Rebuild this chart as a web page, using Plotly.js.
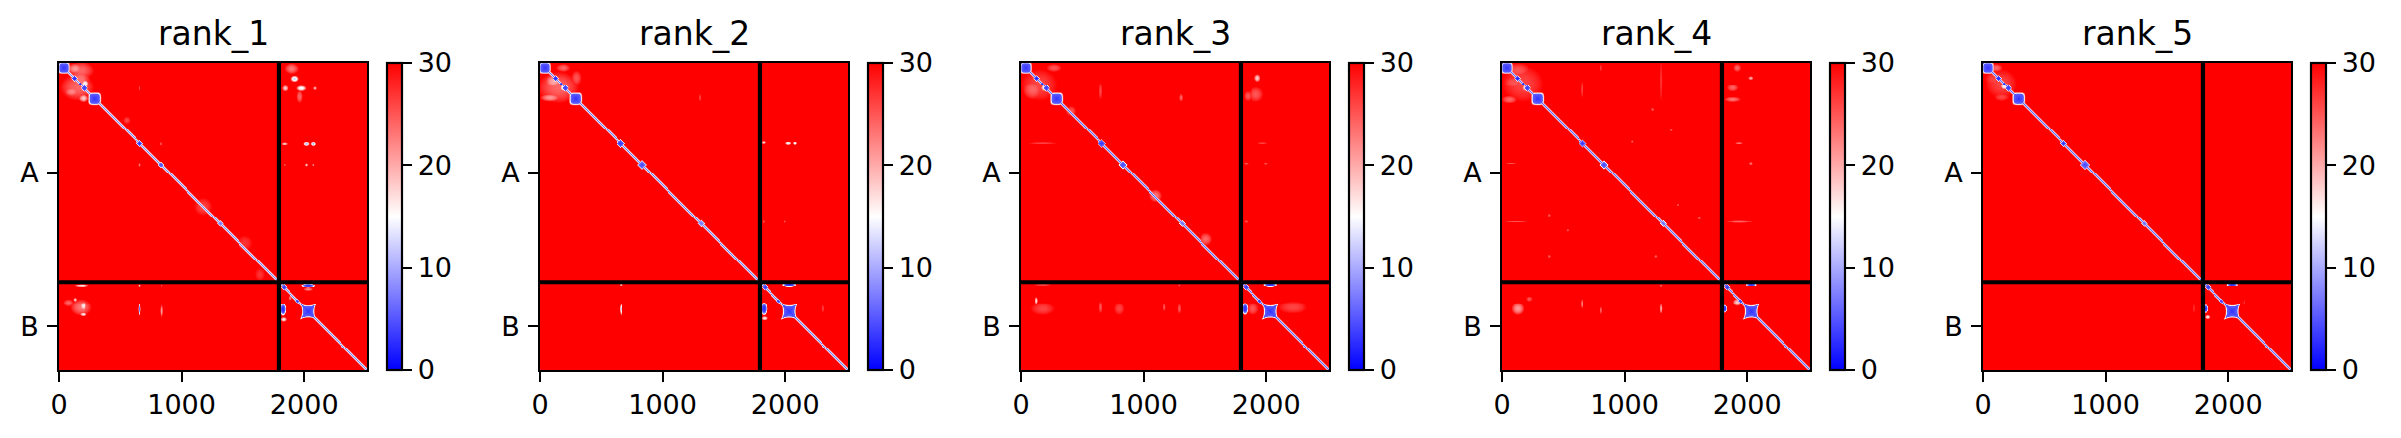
<!DOCTYPE html>
<html><head><meta charset="utf-8">
<style>html,body{margin:0;padding:0;background:#fff}</style>
<script src="https://cdn.plot.ly/plotly-3.0.1.min.js"></script></head>
<body><div id="chart" style="width:2401px;height:438px"></div>
<script>
const rankNames = ['rank_1','rank_2','rank_3','rank_4','rank_5'];
const chainBreak = 1794, totalLength = 2512, cellSize = 8;
const chainTicks = [897, 2153], chainLabels = ['A','B'];
const xTicks = [0,1000,2000];
const cbarTicks = [0,10,20,30];
const background = 30;

// diagonal profile per rank: PAE on the diagonal, then one and two cells off
const diagProfile = [[8,13,24],[7,13,24],[6,12,24],[6,12,24],[6,12,24]];

// diagonal domains: position, kept value, squareness (below 1 = concave square with corner tips)
const nodePos   = [40, 125, 170, 207, 294, 660, 832, 1315, 1834, 1946, 2034];
const nodeValue = [ 3,   2,   2,   3,   3,   3,   4,    7,    3,    3,    3];
const nodeShape = [ 4,   1,   1, 1.3,   4,   1,   1,    1,    1,    1, 0.65];
const nodeRadius = [
  [42,24,14,28,46,26,24,24,24,18,95],
  [42,24,14,28,46,32,36,28,24,18,98],
  [42,24,14,28,46,30,34,26,24,18,98],
  [42,24,14,28,46,28,34,26,24,18,98],
  [42,24,14,28,46,26,38,24,24,18,98]
];

// soft patches: centre x, centre y, radius x, radius y, value at centre
const patches1 = [
 [180,60,110,70,24],[150,200,140,110,24],
 [1925,128,34,28,12],[1979,209,42,24,14],[1843,209,26,26,18],[2088,209,16,16,20],[1898,46,62,44,23],[1965,277,26,52,24],
 [2020,663,26,18,10],[2075,663,22,18,10],[1838,663,26,13,18],[2020,832,12,14,18],[2075,832,10,12,22],[1838,832,10,10,25],
 [130,46,62,44,21],[170,140,90,100,23],[212,170,36,36,13],[103,237,62,42,22],[200,290,44,32,18],
 [660,209,8,20,25],[660,832,10,16,23],[832,663,10,16,25],
 [1177,1175,72,72,26],[1517,1474,62,62,27],[1640,1732,40,52,27],[552,467,30,30,26],
 [185,1822,62,11,16],[660,1822,10,11,18],[837,1822,8,9,25],
 [180,2000,90,70,23],[198,1990,32,40,16],[198,2058,32,16,16],[130,1936,16,16,18],[76,1963,42,32,24],
 [660,2017,9,52,6],[837,2031,11,52,21],
 [1825,2017,26,54,3],[2034,1822,58,15,3],[1830,2099,26,20,16],[2034,1850,40,14,22],[1885,1922,18,22,22]
];
const patches2 = [
 [150,200,170,130,24],
 [109,150,72,62,20],[190,204,32,32,12],[82,285,82,32,21],[300,122,42,62,25],[190,40,62,32,24],
 [1305,285,10,32,26],[1822,652,20,12,18],[2026,658,26,14,13],[2080,658,16,14,13],[1822,1300,10,12,25],[1998,1300,10,10,25],
 [666,1816,12,12,19],[666,2017,9,52,11],[1825,2012,28,56,3],[2034,1816,60,15,3],[2311,2012,10,32,26],[1830,2090,26,18,16]
];
const patches3 = [
 [150,180,150,130,26],
 [1930,122,26,32,18],[1917,258,62,62,25],[1849,272,32,42,25],[190,204,32,32,14],[95,218,82,82,24],[272,40,62,32,25],
 [652,231,16,72,26],[1305,285,16,32,24],[1100,1087,52,52,23],[1509,1441,52,52,24],[408,394,42,42,25],
 [177,658,122,10,26],[1835,821,20,10,25],[1998,821,16,10,25],[1971,658,42,10,26],[1835,1300,16,11,25],
 [122,1944,13,32,17],[177,2012,102,52,26],[652,2000,16,52,25],[802,2012,42,52,26],[1291,2012,16,42,25],[1169,2000,13,32,25],
 [1825,2012,26,52,3],[2034,1816,58,15,3],[2216,2000,122,52,26],[1890,2012,52,52,25],[177,1816,82,8,25],[1291,1820,10,10,25]
];
const patches4 = [
 [170,170,170,150,26],
 [130,60,100,60,25],[190,204,32,32,16],[60,300,62,32,24],[100,160,90,60,25],
 [1297,150,12,172,27],[658,218,10,72,26],[807,40,8,30,26],
 [1922,40,32,32,24],[2031,122,22,16,20],[1881,204,52,32,24],[1881,299,72,22,23],
 [1936,658,32,10,23],[2031,821,16,13,23],[73,821,42,6,25],[1936,1300,112,10,24],[114,1300,92,8,25],
 [1229,380,14,14,25],[1610,1270,14,14,25],[386,1245,14,14,25],[386,1580,14,14,25],[1255,1580,14,14,25],
 [1066,645,12,12,25],[1378,550,12,12,25],[535,1370,12,12,25],[1432,1160,12,12,25],
 [128,2012,52,52,21],[223,1930,32,22,25],[658,1971,10,42,22],[807,2026,10,32,24],[1297,2012,12,42,20],[1297,1822,12,10,24],
 [1922,1958,36,32,18],[1815,2012,18,34,3],[2034,1816,48,11,3]
];
const patches5 = [
 [150,170,130,120,26],
 [174,190,36,32,13],[90,130,72,62,26],[106,40,52,32,24],[150,280,60,32,26],
 [1815,2012,18,36,3],[2034,1816,50,12,3],[1830,2080,22,18,16],[1720,2010,8,40,27],[2130,1960,8,24,27]
];
const allPatches = [patches1,patches2,patches3,patches4,patches5];

// pixel layout of the figure
const W = 2401, H = 438, panelLeft = [59,540,1021,1502,1983], panelW = 308, plotTop = 63, plotBottom = 370;
const cbarOffset = 328, cbarW = 15, tickPx = 27, titlePx = 33, lineW = 2.2, tickLen = 9.7, sepW = 4.2;
const fontFam = '"DejaVu Sans", sans-serif';
const bwr = [[0,'#0000ff'],[0.5,'#ffffff'],[1,'#ff0000']];

function buildZ(r){
  const n = Math.ceil(totalLength/cellSize), z = [];
  for(let i=0;i<n;i++){ z.push(new Array(n).fill(background)); }
  const put=(i,j,v)=>{ if(v<z[i][j]) z[i][j]=v; };
  const prof = diagProfile[r];
  for(let i=0;i<n;i++) for(let o=-prof.length+1;o<prof.length;o++){ const j=i+o; if(j>=0&&j<n) put(i,j,prof[Math.abs(o)]); }
  nodePos.forEach((p,k)=>{
    const R=nodeRadius[r][k], v=nodeValue[k], s=nodeShape[k];
    const lo=Math.max(0,Math.floor((p-R*1.3)/cellSize)), hi=Math.min(n-1,Math.ceil((p+R*1.3)/cellSize));
    for(let i=lo;i<=hi;i++) for(let j=lo;j<=hi;j++){
      let dx=((j+.5)*cellSize-p)/R, dy=((i+.5)*cellSize-p)/R;
      if(s<1){ const u=(dx+dy)*Math.SQRT1_2, w=(dx-dy)*Math.SQRT1_2; dx=u; dy=w; }
      dx=Math.abs(dx); dy=Math.abs(dy);
      const t=Math.pow(Math.pow(dx,s)+Math.pow(dy,s),1/s);
      const core=0.82, edge=s<1?1.15:1.2;
      if(t<edge) put(i,j, t<core ? v+t*3 : v+3+(t-core)/(edge-core)*(30-v-3));
    }
  });
  allPatches[r].forEach(([cx,cy,rx,ry,v])=>{
    for(let i=Math.max(0,Math.floor((cy-ry)/cellSize));i<n&&(i*cellSize)<cy+ry;i++)
      for(let j=Math.max(0,Math.floor((cx-rx)/cellSize));j<n&&(j*cellSize)<cx+rx;j++){
        const dx=((j+.5)*cellSize-cx)/rx, dy=((i+.5)*cellSize-cy)/ry, t=dx*dx+dy*dy;
        if(t<1) put(i,j,v+(30-v)*(v<=5?t*t:t));
      }
  });
  return z;
}

const data=[], layout={
  width:W,height:H,margin:{l:0,r:0,t:0,b:0,autoexpand:false},paper_bgcolor:'#fff',plot_bgcolor:'#fff',
  font:{family:fontFam,size:tickPx,color:'#000'},shapes:[],annotations:[],showlegend:false
};
rankNames.forEach((name,r)=>{
  const s=r?String(r+1):'';
  const L=panelLeft[r];
  data.push({type:'heatmap',z:buildZ(r),x0:cellSize/2,dx:cellSize,y0:cellSize/2,dy:cellSize,
    xaxis:'x'+s,yaxis:'y'+s,zmin:0,zmax:30,colorscale:bwr,hoverinfo:'skip',
    colorbar:{x:(L+cbarOffset)/W,xanchor:'left',xref:'paper',xpad:0,ypad:0,
      y:1-plotBottom/H,yanchor:'bottom',yref:'paper',len:(plotBottom-plotTop)/H,lenmode:'fraction',
      thickness:cbarW,thicknessmode:'pixels',outlinewidth:lineW,outlinecolor:'#000',
      tickmode:'array',tickvals:cbarTicks,ticktext:cbarTicks.map(String),ticks:'outside',ticklen:tickLen,tickwidth:lineW,tickcolor:'#000',
      tickfont:{family:fontFam,size:tickPx,color:'#000'}}});
  const ax={showline:true,mirror:true,linecolor:'#000',linewidth:lineW,showgrid:false,zeroline:false,
    ticks:'outside',ticklen:tickLen,tickwidth:lineW,tickcolor:'#000',tickfont:{family:fontFam,size:tickPx,color:'#000'}};
  layout['xaxis'+s]=Object.assign({},ax,{domain:[L/W,(L+panelW)/W],range:[0,totalLength],anchor:'y'+s,
    tickmode:'array',tickvals:xTicks,ticktext:xTicks.map(String),constrain:'domain'});
  layout['yaxis'+s]=Object.assign({},ax,{domain:[1-plotBottom/H,1-plotTop/H],range:[totalLength,0],anchor:'x'+s,
    tickmode:'array',tickvals:chainTicks,ticktext:chainLabels,ticklabelstandoff:3});
  const xr='x'+s,yr='y'+s;
  layout.shapes.push({type:'line',xref:xr,yref:yr,x0:chainBreak,x1:chainBreak,y0:0,y1:totalLength,line:{color:'#000',width:sepW}});
  layout.shapes.push({type:'line',xref:xr,yref:yr,x0:0,x1:totalLength,y0:chainBreak,y1:chainBreak,line:{color:'#000',width:sepW}});
  layout.annotations.push({text:name,xref:'paper',yref:'paper',x:(L+panelW/2)/W,y:1-(plotTop-8)/H,xanchor:'center',yanchor:'bottom',
    showarrow:false,font:{family:fontFam,size:titlePx,color:'#000'}});
});
Plotly.newPlot('chart',data,layout,{displayModeBar:false,staticPlot:true});
</script></body></html>
